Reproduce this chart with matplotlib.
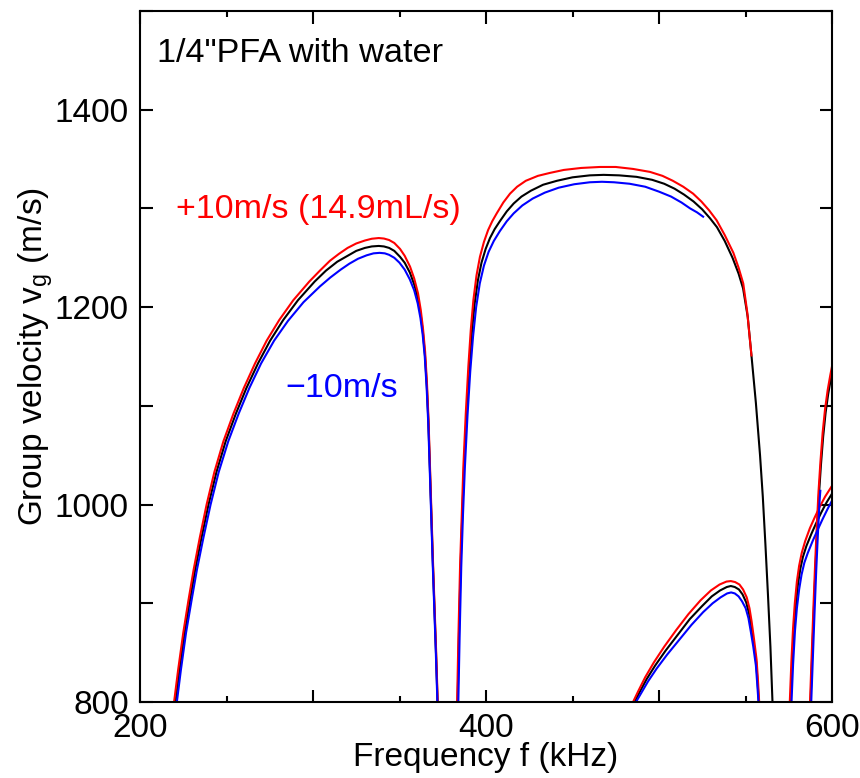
import numpy as np
import matplotlib.pyplot as plt
from matplotlib.ticker import MultipleLocator, FuncFormatter

plt.rcParams['font.family'] = ['Liberation Sans', 'DejaVu Sans']
plt.rcParams['font.size'] = 24

# Data: frequency (kHz) / group velocity (m/s), one list pair per branch
# red = +10 m/s, black = 0, blue = -10 m/s
red_b1_f = [219.7, 222.0, 225.0, 228.0, 231.0, 234.5, 238.5, 243.0, 248.2, 254.0, 260.0, 266.5,
            273.2, 280.5, 288.6, 297.9, 304.0, 309.8, 315.0, 320.0, 325.0, 330.0, 334.0, 338.0,
            341.0, 344.0, 347.0, 350.3, 353.0, 356.1, 358.5, 360.7, 362.3, 363.6, 364.8, 365.9,
            366.8, 367.6, 368.5, 369.4, 370.3, 371.2, 372.1]
red_b1_v = [800, 832, 870, 903, 934, 966, 1000, 1033, 1064, 1092, 1118, 1143,
            1166, 1187, 1207, 1226, 1237, 1247, 1254, 1260, 1264.5, 1267.5, 1269.3, 1270,
            1269.5, 1268, 1265, 1259, 1252, 1241, 1229, 1214, 1197, 1178, 1155, 1122,
            1085, 1040, 990, 940, 895, 850, 800]
blk_b1_f = [220.5, 222.8, 225.8, 228.9, 231.9, 235.5, 239.6, 244.2, 249.5, 255.4, 261.5, 268.2,
            275.2, 282.8, 291.3, 301.0, 307.5, 314.0, 320.0, 325.0, 330.0, 334.0, 338.0,
            341.0, 344.0, 347.0, 350.3, 353.0, 356.0, 358.5, 360.6, 362.2, 363.5, 364.7, 365.8,
            366.7, 367.5, 368.4, 369.3, 370.2, 371.1, 372.0]
blk_b1_v = [800, 832, 870, 903, 934, 966, 1000, 1033, 1064, 1092, 1118, 1143,
            1166, 1187, 1207, 1226, 1237, 1246, 1252, 1257, 1260, 1261.5, 1262,
            1261.5, 1260, 1257, 1251, 1245, 1235, 1223, 1209, 1193, 1175, 1152, 1120,
            1084, 1040, 990, 940, 895, 850, 800]
blu_b1_f = [221.3, 223.6, 226.6, 229.8, 232.9, 236.6, 240.8, 245.5, 251.0, 257.0, 263.2, 270.0,
            277.5, 285.5, 294.5, 304.0, 310.0, 316.0, 321.0, 326.0, 331.0, 335.0, 338.5,
            341.5, 344.0, 347.0, 350.0, 353.0, 356.0, 358.5, 360.5, 362.1, 363.4, 364.6, 365.7,
            366.6, 367.4, 368.3, 369.2, 370.1, 371.0, 371.9]
blu_b1_v = [800, 832, 870, 903, 934, 966, 1000, 1033, 1064, 1092, 1118, 1143,
            1166, 1186, 1205, 1221, 1230, 1238, 1244, 1249, 1252.5, 1254.5, 1255,
            1254.5, 1253, 1250, 1245, 1238, 1228, 1217, 1204, 1189, 1172, 1150, 1118,
            1083, 1040, 990, 940, 895, 850, 800]

red_b2_f = [383.3, 384.1, 385.0, 386.0, 386.9, 388.3, 389.8, 391.2, 392.7, 394.5, 396.5, 398.8,
            401.2, 403.6, 406.2, 410.0, 413.9, 418.0, 423.0, 430.0, 437.0, 445.0, 455.0, 465.9,
            475.0, 485.0, 494.8, 502.0, 508.0, 514.0, 519.7, 524.5, 529.0, 533.3, 538.0, 543.0,
            546.0, 548.7, 551.0, 553.5]
red_b2_v = [800, 870, 937, 990, 1038, 1092, 1140, 1177, 1207, 1232, 1251, 1266,
            1278, 1287, 1295, 1306, 1315, 1322, 1328, 1333, 1336, 1339, 1341, 1342,
            1342, 1340, 1337, 1333, 1328, 1322, 1315, 1307, 1298, 1288, 1273, 1255,
            1240, 1224, 1195, 1150]
blk_b2_f = [383.6, 384.4, 385.3, 386.3, 387.3, 388.7, 390.3, 391.8, 393.4, 395.3, 397.4, 399.8,
            402.3, 405.0, 408.0, 412.0, 416.0, 420.5, 426.0, 433.0, 441.0, 450.0, 460.0, 468.0,
            477.0, 487.0, 496.0, 503.0, 509.0, 514.5, 520.0, 525.0, 529.5, 533.5, 538.0, 542.5,
            546.0, 548.6, 551.3, 553.5, 556.0, 558.4, 560.0, 561.5, 563.0, 564.4, 565.6]
blk_b2_v = [800, 870, 937, 990, 1038, 1090, 1138, 1174, 1203, 1227, 1245, 1259,
            1270, 1279, 1287, 1297, 1305, 1312, 1318, 1324, 1328, 1331.5, 1333.5, 1334,
            1333.5, 1332, 1329, 1325, 1320, 1314, 1307, 1299, 1290, 1281, 1267, 1250,
            1234, 1219, 1190, 1150, 1103, 1050, 1008, 960, 908, 856, 800]
blu_b2_f = [384.0, 384.8, 385.7, 386.7, 387.8, 389.3, 390.9, 392.5, 394.3, 396.4, 398.8, 401.5,
            404.5, 408.0, 412.0, 416.0, 421.0, 427.0, 434.0, 442.0, 451.0, 460.0, 467.0, 474.0,
            483.0, 492.0, 500.0, 507.0, 513.0, 518.0, 522.0, 526.0]
blu_b2_v = [800, 870, 937, 990, 1038, 1090, 1135, 1170, 1200, 1224, 1242, 1256,
            1267, 1277, 1287, 1295, 1303, 1310, 1316, 1321, 1324.5, 1326.5, 1327, 1326.5,
            1325, 1322, 1317, 1312, 1306, 1300, 1296, 1291]

red_b3_f = [485.0, 488.0, 492.0, 497.0, 503.0, 510.0, 517.0, 524.0, 530.0, 535.0, 539.0, 541.5,
            544.0, 546.5, 548.6, 550.7, 552.3, 553.5, 554.9, 556.4, 557.2, 557.9]
red_b3_v = [800, 811, 825, 840, 856, 873, 889, 903, 913, 919, 922, 922.5,
            921.5, 919, 914, 906, 895, 882, 864, 843, 822, 800]
blk_b3_f = [485.8, 488.8, 492.8, 497.8, 503.8, 510.8, 517.8, 524.8, 530.5, 535.3, 539.2, 541.5,
            543.8, 546.2, 548.3, 550.4, 552.0, 553.3, 554.7, 556.2, 557.0, 557.7]
blk_b3_v = [800, 810, 823, 837, 852, 868, 884, 897, 907, 913, 916.5, 917.5,
            916.5, 914, 909, 901, 890, 877, 860, 840, 820, 800]
blu_b3_f = [486.7, 489.7, 493.7, 498.7, 504.7, 511.7, 518.7, 525.5, 531.0, 535.6, 539.4, 541.7,
            543.8, 546.0, 548.0, 550.1, 551.7, 553.0, 554.5, 556.0, 556.8, 557.5]
blu_b3_v = [800, 809, 821, 834, 848, 863, 878, 891, 900, 906, 910, 911,
            910, 907, 902, 895, 885, 872, 856, 837, 818, 800]

red_b4_f = [575.6, 576.5, 577.5, 578.5, 579.7, 581.0, 582.5, 584.5, 587.2, 590.0, 593.0, 596.0, 600.0]
red_b4_v = [800, 840, 875, 900, 922, 938, 951, 963, 976, 987, 998, 1008, 1019]
blk_b4_f = [576.1, 577.0, 578.0, 579.1, 580.3, 581.7, 583.2, 585.2, 588.0, 590.8, 593.8, 596.8, 600.0]
blk_b4_v = [800, 840, 874, 898, 919, 935, 947, 958, 970, 981, 992, 1002, 1011]
blu_b4_f = [576.6, 577.5, 578.6, 579.7, 581.0, 582.4, 584.0, 586.0, 588.8, 591.6, 594.5, 597.3, 600.0]
blu_b4_v = [800, 838, 872, 895, 914, 929, 941, 951, 963, 974, 985, 995, 1004]

red_b5_f = [587.3, 588.2, 589.2, 590.2, 591.2, 592.2, 593.3, 594.6, 596.0, 597.5, 599.0, 600.0]
red_b5_v = [800, 845, 893, 938, 978, 1013, 1043, 1073, 1097, 1116, 1131, 1140]
blk_b5_f = [587.6, 588.5, 589.5, 590.5, 591.5, 592.5, 593.6, 594.9, 596.3, 597.8, 599.3, 600.0]
blk_b5_v = [800, 845, 893, 938, 977, 1011, 1040, 1069, 1093, 1112, 1127, 1133]
blu_b5_f = [588.0, 588.9, 589.9, 590.9, 591.9, 592.8, 593.3]
blu_b5_v = [800, 843, 890, 934, 972, 1003, 1015]

black_branches = [(blk_b1_f, blk_b1_v), (blk_b2_f, blk_b2_v), (blk_b3_f, blk_b3_v),
                  (blk_b4_f, blk_b4_v), (blk_b5_f, blk_b5_v)]
red_branches = [(red_b1_f, red_b1_v), (red_b2_f, red_b2_v), (red_b3_f, red_b3_v),
                (red_b4_f, red_b4_v), (red_b5_f, red_b5_v)]
blue_branches = [(blu_b1_f, blu_b1_v), (blu_b2_f, blu_b2_v), (blu_b3_f, blu_b3_v),
                 (blu_b4_f, blu_b4_v), (blu_b5_f, blu_b5_v)]

fig = plt.figure(figsize=(8.6, 7.78), dpi=100)
ax = fig.add_axes([140 / 860, 1 - 702 / 778, 692 / 860, 691 / 778])

for branches, col in [(black_branches, 'black'), (red_branches, '#ff0000'), (blue_branches, '#0000ff')]:
    for f, v in branches:
        ax.plot(f, v, color=col, lw=1.5, solid_capstyle='butt', solid_joinstyle='round')

ax.set_xlim(200, 600)
ax.set_ylim(800, 1500)

ax.xaxis.set_major_locator(MultipleLocator(100))
ax.xaxis.set_minor_locator(MultipleLocator(50))
ax.yaxis.set_major_locator(MultipleLocator(100))
ax.xaxis.set_major_formatter(FuncFormatter(lambda x, p: f"{x:.0f}" if round(x) % 200 == 0 else ""))
ax.yaxis.set_major_formatter(FuncFormatter(lambda y, p: f"{y:.0f}" if round(y) % 200 == 0 else ""))
ax.tick_params(which='both', direction='in', top=True, right=True, width=1.5, labelsize=24)
ax.tick_params(which='major', length=9, pad=8)
ax.tick_params(which='minor', length=4)
for s in ax.spines.values():
    s.set_linewidth(1.5)

ax.set_xlabel('Frequency f (kHz)', fontsize=24, labelpad=-1.5)
ax.set_ylabel(r'Group velocity v$_\mathregular{g}$ (m/s)', fontsize=24, labelpad=0)

ax.text(0.024, 0.926, '1/4"PFA with water', transform=ax.transAxes, fontsize=24.7, va='baseline')
ax.text(0.052, 0.700, '+10m/s (14.9mL/s)', transform=ax.transAxes, fontsize=24.5,
        color='#ff0000', va='baseline')
ax.text(0.210, 0.442, '\u221210m/s', transform=ax.transAxes, fontsize=24.5,
        color='#0000ff', va='baseline')

fig.savefig('out.png', dpi=100)
